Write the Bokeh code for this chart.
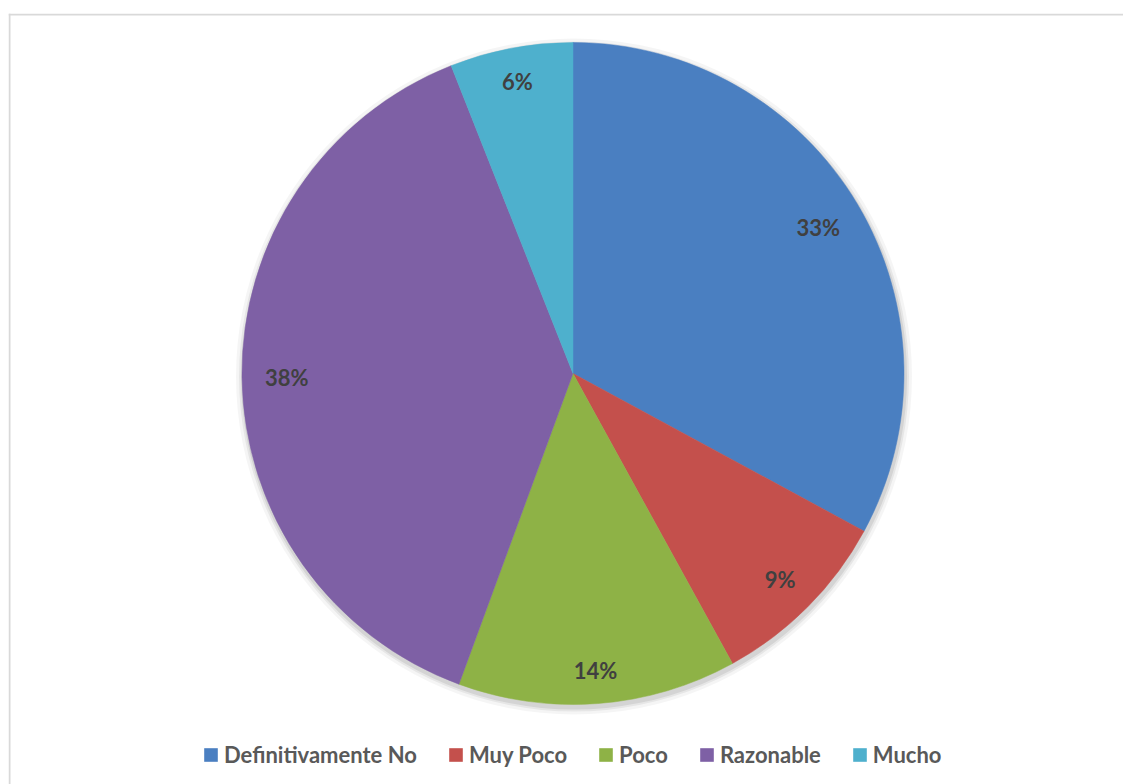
import math
from bokeh.plotting import figure
from bokeh.models import ColumnDataSource, Range1d, Legend, LegendItem, Span
from bokeh.core.properties import value
from bokeh.embed import file_html
from bokeh.resources import INLINE

# ---- data ----
categories = ["Definitivamente No", "Muy Poco", "Poco", "Razonable", "Mucho"]
values = [32.9, 9.1, 13.6, 38.4, 6.0]
colors = ["#4A7FC1", "#C4504C", "#8EB246", "#7E60A5", "#4EB0CD"]

# ---- geometry / style ----
FW, FH = 1115, 771          # frame size in px (1 data unit = 1 px)
CX, CY, R = 564.5, 411.0, 331.0
FONT = "Lato"
LBL_SIZE = 22
CHAR_W, CAP_H, EDGE = 13.7, 15.0, 24.0   # label placement ("inside end" fit)

total = sum(values)
starts, ends, lx, ly, labels = [], [], [], [], []
cum = 0.0
for v in values:
    a0 = math.pi / 2 - 2 * math.pi * cum / total
    cum += v
    a1 = math.pi / 2 - 2 * math.pi * cum / total
    starts.append(a0)
    ends.append(a1)
    mid = (a0 + a1) / 2
    lab = f"{round(100 * v / total)}%"
    w = CHAR_W * len(lab)
    ext = abs(math.cos(mid)) * w / 2 + abs(math.sin(mid)) * CAP_H / 2
    rr = R - EDGE - ext
    lx.append(CX + rr * math.cos(mid))
    ly.append(CY + rr * math.sin(mid))
    labels.append(lab)

src = ColumnDataSource(dict(cat=categories, val=values, color=colors,
                            start=starts, end=ends, lx=lx, ly=ly, label=labels,
                            x=[CX] * len(values), y=[CY] * len(values)))

p = figure(width=FW + 8, height=FH + 13, output_backend="svg", toolbar_location=None,
           x_range=Range1d(0, FW), y_range=Range1d(0, FH),
           x_axis_type=None, y_axis_type=None,
           min_border_left=8, min_border_right=0, min_border_top=13, min_border_bottom=0)
p.grid.visible = False
p.outline_line_color = None
p.background_fill_color = "white"
p.border_fill_color = "white"

p.add_layout(Span(location=1, dimension="height", line_color="#D9D9D9", line_width=2))
p.add_layout(Span(location=FH - 1, dimension="width", line_color="#D9D9D9", line_width=2))

# soft shadow
for k, a in [(7, 0.04), (4, 0.06), (2, 0.08)]:
    p.circle(x=[CX + 1], y=[CY - 3], radius=R + k, fill_color="black",
             fill_alpha=a, line_color=None)

p.wedge(x="x", y="y", radius=R, start_angle="start", end_angle="end",
        direction="clock", fill_color="color", line_color="color",
        line_width=0.5, source=src)

p.text(x="lx", y="ly", text="label", source=src, text_align="center",
       text_baseline="middle", text_font=value(FONT), text_font_style="bold",
       text_font_size=f"{LBL_SIZE}px", text_color="#404040")

# legend proxies (not drawn: NaN positions)
nan = float("nan")
lsrc = ColumnDataSource(dict(cat=categories, color=colors, v=[nan] * 5))
r = p.quad(left="v", right="v", top="v", bottom="v", fill_color="color",
           line_color=None, source=lsrc)
items = [LegendItem(label=c, renderers=[r], index=i) for i, c in enumerate(categories)]
legend = Legend(items=items, orientation="horizontal", location=(194, 16),
                glyph_width=17, glyph_height=17, label_standoff=5, spacing=30,
                padding=0, margin=0, border_line_color=None, background_fill_alpha=0,
                label_text_font=FONT, label_text_font_style="bold",
                label_text_font_size="22px", label_text_color="#595959",
                label_height=22)
p.add_layout(legend)

open("out.html", "w").write(file_html(p, INLINE))
